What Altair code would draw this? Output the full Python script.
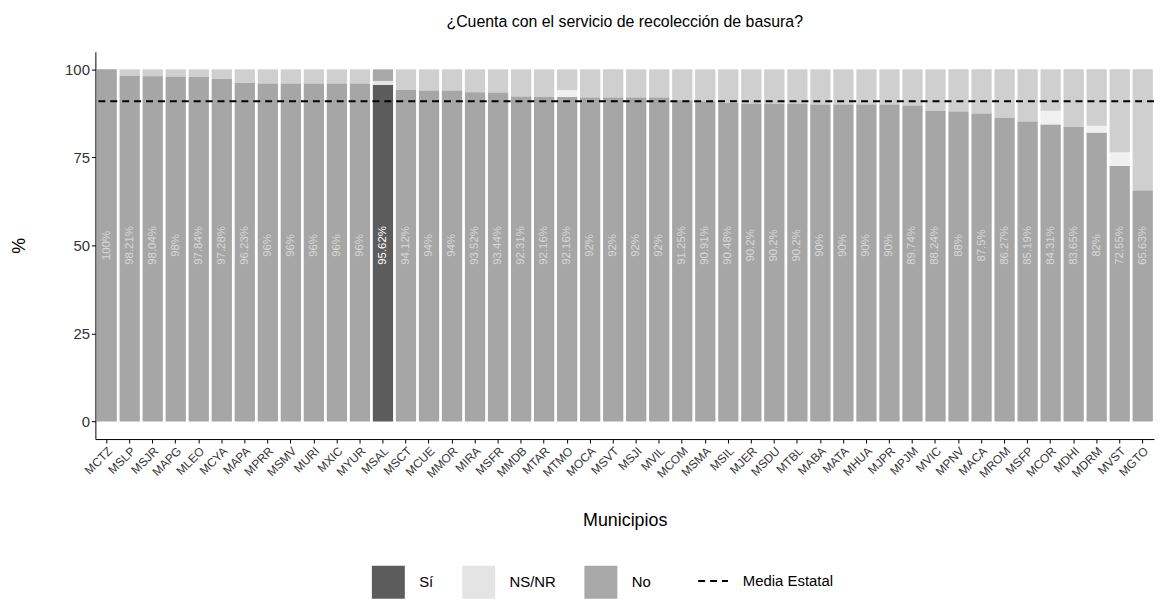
import altair as alt
import pandas as pd

munis = ["MCTZ", "MSLP", "MSJR", "MAPG", "MLEO", "MCYA", "MAPA", "MPRR", "MSMV", "MURI",
         "MXIC", "MYUR", "MSAL", "MSCT", "MCUE", "MMOR", "MIRA", "MSFR", "MMDB", "MTAR",
         "MTMO", "MOCA", "MSVT", "MSJI", "MVIL", "MCOM", "MSMA", "MSIL", "MJER", "MSDU",
         "MTBL", "MABA", "MATA", "MHUA", "MJPR", "MPJM", "MVIC", "MPNV", "MACA", "MROM",
         "MSFP", "MCOR", "MDHI", "MDRM", "MVST", "MGTO"]
si = [100, 98.21, 98.04, 98, 97.84, 97.28, 96.23, 96, 96, 96,
      96, 96, 95.62, 94.12, 94, 94, 93.52, 93.44, 92.31, 92.16,
      92.16, 92, 92, 92, 92, 91.25, 90.91, 90.48, 90.2, 90.2,
      90.2, 90, 90, 90, 90, 89.74, 88.24, 88, 87.5, 86.27,
      85.19, 84.31, 83.65, 82, 72.55, 65.63]
nsnr = [0, 0, 0, 0, 0, 0, 0, 0, 0, 0,
        0, 0, 1.09, 0, 0, 0, 0, 0, 0, 0,
        1.96, 0, 0, 0, 0, 0, 0, 0, 0, 0,
        0, 0, 0, 0, 0, 0, 0, 0, 0, 0,
        0, 3.92, 0, 2, 3.92, 0]
no = [0, 1.79, 1.96, 2, 2.16, 2.72, 3.77, 4, 4, 4,
      4, 4, 3.29, 5.88, 6, 6, 6.48, 6.56, 7.69, 7.84,
      5.88, 8, 8, 8, 8, 8.75, 9.09, 9.52, 9.8, 9.8,
      9.8, 10, 10, 10, 10, 10.26, 11.76, 12, 12.5, 13.73,
      14.81, 11.77, 16.35, 16, 23.53, 34.37]
highlight = "MSAL"
media_estatal = 90.97
responses = ["Sí", "NS/NR", "No"]
resp_colors = ["#5c5c5c", "#e4e4e4", "#a8a8a8"]

rows = []
for i, m in enumerate(munis):
    for k, (r, v) in enumerate(zip(responses, [si[i], nsnr[i], no[i]])):
        rows.append({"mun": m, "resp": r, "val": v, "ord": k})
df = pd.DataFrame(rows)
lab = pd.DataFrame({"mun": munis, "label": [f"{v:g}%" for v in si], "pos": [50] * len(munis)})
mean_df = pd.DataFrame({"y": [media_estatal], "lab": ["Media Estatal"]})

xenc = alt.X("mun:N", sort=munis, title="Municipios",
             scale=alt.Scale(paddingInner=0.12, paddingOuter=0.05),
             axis=alt.Axis(labelAngle=-45, labelFontSize=12, labelColor="#333",
                           labelFont="Liberation Sans", titleFontSize=18,
                           titleFont="Liberation Sans", titleFontWeight="normal",
                           titleColor="#000", titlePadding=32, domainColor="#000",
                           tickColor="#000", tickSize=4))
opac = alt.condition(f"datum.mun == '{highlight}'", alt.value(1), alt.value(0.55))

bars = alt.Chart(df).mark_bar().encode(
    x=xenc,
    y=alt.Y("val:Q", stack="zero", title="%",
            scale=alt.Scale(domain=[-5, 105], nice=False, zero=False),
            axis=alt.Axis(values=[0, 25, 50, 75, 100], grid=False, labelFontSize=15,
                          labelColor="#333", labelFont="Liberation Sans", titleFontSize=18,
                          titleFont="Liberation Sans", titleFontWeight="normal",
                          titleColor="#000", titleAngle=270, titlePadding=36,
                          domainColor="#000", tickColor="#000", tickSize=4)),
    color=alt.Color("resp:N", scale=alt.Scale(domain=responses, range=resp_colors),
                    legend=alt.Legend(title=None, orient="none", direction="horizontal",
                                      legendX=278, legendY=517, symbolType="square",
                                      symbolSize=1100, symbolStrokeWidth=0,
                                      labelFontSize=15, labelFont="Liberation Sans",
                                      labelColor="#000", labelOffset=14,
                                      columnPadding=28, symbolOpacity=1)),
    order=alt.Order("ord:Q", sort="ascending"),
    opacity=opac,
)

texts = alt.Chart(lab).mark_text(angle=270, fontSize=11.5, font="Liberation Sans",
                                 color="white", baseline="middle", align="center").encode(
    x=alt.X("mun:N", sort=munis),
    y=alt.Y("pos:Q"),
    text="label:N",
    opacity=opac,
)

rule = alt.Chart(mean_df).mark_rule(color="black", strokeWidth=2).encode(
    y="y:Q",
    strokeDash=alt.StrokeDash("lab:N", scale=alt.Scale(domain=["Media Estatal"], range=[[7, 5]]),
                              legend=alt.Legend(title=None, orient="none", legendX=606,
                                                legendY=517, symbolType="stroke",
                                                symbolSize=900, symbolStrokeWidth=2,
                                                symbolStrokeColor="black",
                                                labelFontSize=15, labelFont="Liberation Sans",
                                                labelColor="#000", labelOffset=14)),
)

chart = alt.layer(bars, texts, rule).properties(
    width=1066, height=390,
    background="white",
    title=alt.TitleParams("¿Cuenta con el servicio de recolección de basura?", fontSize=16,
                          font="Liberation Sans", fontWeight="normal", color="#000",
                          anchor="middle", offset=22),
    autosize=alt.AutoSizeParams(type="none"),
    padding={"left": 88, "top": 42, "right": 1, "bottom": 160},
).configure_view(strokeWidth=0, stroke="transparent")

chart.save("out.html", embed_options={"renderer": "svg", "actions": False})
